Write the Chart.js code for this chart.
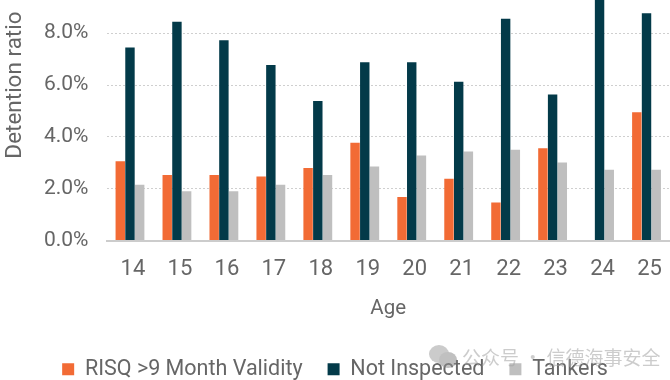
<!DOCTYPE html>
<html>
<head>
<meta charset="utf-8">
<script src="https://cdn.jsdelivr.net/npm/chart.js@4"></script>
<style>
    html, body { margin: 0; padding: 0; background: #fff; overflow: hidden; width: 670px; height: 380px; }
    /* the reference is a crop of a taller chart, so the canvas runs past the page edges */
    #wrap { position: absolute; left: 0; top: -101px; width: 670px; height: 491px; }
    #mark { position: absolute; left: 429px; top: 343px; display: flex; align-items: center; opacity: 0.55; color: #a3a3a3;
            font: 19px "Noto Sans CJK SC"; white-space: nowrap; }
    #mark svg { margin-right: 5px; }
</style>
</head>
<body>
<div id="wrap"><canvas id="chart" width="670" height="491"></canvas></div>
<div id="mark">
    <svg width="28" height="26" viewBox="0 0 28 26"><ellipse cx="10" cy="10" rx="10" ry="9" fill="#a0a0a0"/><ellipse cx="19" cy="16" rx="9" ry="8" fill="#8c8c8c"/></svg>
    <span>公众号 · 信德海事安全</span>
</div>
<script>
const ages = ['14', '15', '16', '17', '18', '19', '20', '21', '22', '23', '24', '25'];
const risq = [3.06, 2.53, 2.53, 2.47, 2.8, 3.77, 1.68, 2.38, 1.47, 3.56, null, 4.95];
const notInspected = [7.45, 8.44, 7.73, 6.77, 5.38, 6.88, 6.88, 6.13, 8.56, 5.64, 9.3, 8.77];
const tankers = [2.15, 1.9, 1.9, 2.15, 2.53, 2.86, 3.28, 3.44, 3.5, 3.01, 2.73, 2.73];

const textColor = '#666666';
const font = 'Roboto';

const dataset = (label, data, color) => ({
    label, data, backgroundColor: color,
    categoryPercentage: 0.62,
    barPercentage: 0.97
});

new Chart(document.getElementById('chart').getContext('2d'), {
    type: 'bar',
    data: {
        labels: ages,
        datasets: [
            dataset('RISQ >9 Month Validity', risq, '#f26b35'),
            dataset('Not Inspected', notInspected, '#033a49'),
            dataset('Tankers', tankers, '#bfbfbf')
        ]
    },
    options: {
        responsive: false,
        animation: false,
        plugins: {
            tooltip: { enabled: false },
            legend: {
                position: 'bottom',
                labels: {
                    boxWidth: 12,
                    boxHeight: 12,
                    padding: 25,
                    color: textColor,
                    font: { family: font, size: 21.5 }
                }
            }
        },
        scales: {
            x: {
                // bars run right up to the page edge, drop the room kept for the last label
                afterFit: scale => { scale.paddingRight = 0; },
                grid: { display: false, drawTicks: false },
                border: { color: '#cccccc', width: 2 },
                ticks: { color: textColor, font: { family: font, size: 22 }, padding: 16, labelOffset: 3, maxRotation: 0 },
                title: { display: true, text: 'Age', color: textColor, font: { family: font, size: 20.5 }, padding: { top: -2, bottom: 12 } }
            },
            y: {
                min: 0,
                max: 12,
                afterFit: scale => { scale.width = 106.5; },
                grid: {
                    color: ctx => ctx.tick.value === 0 ? 'rgba(0,0,0,0)' : '#cfcfcf',
                    drawTicks: false
                },
                border: { display: false, dash: [2, 2] },
                ticks: {
                    stepSize: 2,
                    color: textColor,
                    padding: 18,
                    font: { family: font, size: 21 },
                    callback: v => v.toFixed(1) + '%'
                },
                title: { display: true, text: 'Detention ratio', color: textColor, font: { family: font, size: 22.5 }, padding: { top: 2, bottom: 0 } }
            }
        }
    }
});
</script>
</body>
</html>
